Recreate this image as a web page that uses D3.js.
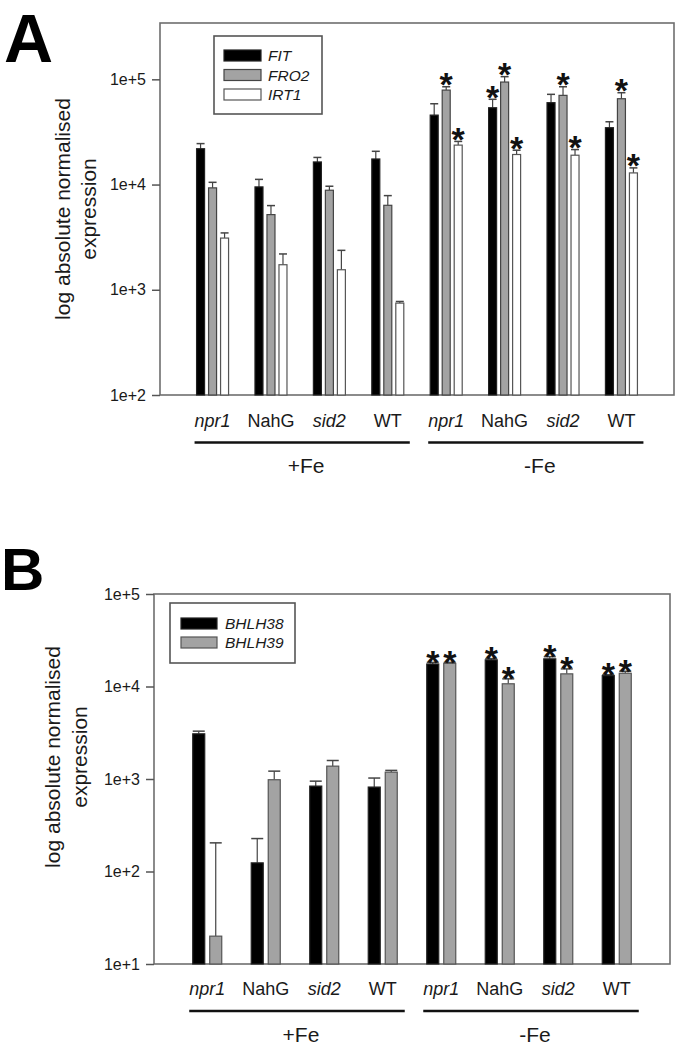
<!DOCTYPE html>
<html><head><meta charset="utf-8">
<script src="https://cdn.jsdelivr.net/npm/d3@7"></script>
<style>body{margin:0;background:#fff}svg{display:block}text{font-family:"Liberation Sans",Arial,sans-serif}</style>
</head><body>
<script>
// ---------- data ----------
const genotypes = ["npr1","NahG","sid2","WT","npr1","NahG","sid2","WT"];
const italicGenotype = [true,false,true,false,true,false,true,false];
const conditions = ["+Fe","-Fe"];
const tickLabelsA = ["1e+2","1e+3","1e+4","1e+5"];
const tickLabelsB = ["1e+1","1e+2","1e+3","1e+4","1e+5"];

// Panel A
const seriesA = ["FIT","FRO2","IRT1"];
const fitMean  = [21900, 9500, 16400, 17500, 45700, 53700, 60000, 34700];
const fitErr   = [2600, 1700, 1700, 3200, 12900, 10900, 12000, 4800];
const fro2Mean = [9300, 5180, 8830, 6350, 79000, 94200, 70400, 65400];
const fro2Err  = [1200, 1130, 810, 1500, 6000, 11800, 14600, 9200];
const irt1Mean = [3100, 1730, 1550, 747, 23700, 19300, 19000, 12900];
const irt1Err  = [370, 460, 820, 27, 2000, 1900, 2500, 1500];
const fitSig   = [0,0,0,0,0,1,0,0];
const fro2Sig  = [0,0,0,0,1,1,1,1];
const irt1Sig  = [0,0,0,0,1,1,1,1];

// Panel B
const seriesB = ["BHLH38","BHLH39"];
const bhlh38Mean = [3080, 124, 838, 818, 17500, 19400, 19900, 13100];
const bhlh38Err  = [210, 103, 110, 206, 700, 600, 1100, 300];
const bhlh39Mean = [20, 982, 1377, 1186, 17800, 10700, 13700, 13900];
const bhlh39Err  = [184, 234, 208, 53, 400, 1400, 1800, 700];
const bhlh38Sig  = [0,0,0,0,1,1,1,1];
const bhlh39Sig  = [0,0,0,0,1,1,1,1];

// ---------- drawing ----------
const W = 678, H = 1047;
const svg = d3.select("body").append("svg").attr("width", W).attr("height", H);

const fills = {FIT:"#000", FRO2:"#a3a3a3", IRT1:"#fff", BHLH38:"#000", BHLH39:"#a3a3a3"};
const strokes = {FIT:"#222", FRO2:"#444", IRT1:"#555", BHLH38:"#222", BHLH39:"#555"};

function panel(cfg) {
  const g = svg.append("g");
  const y = d3.scaleLog().domain(cfg.yDomain).range([cfg.bottom, cfg.top]);
  const x = d3.scaleBand().domain(d3.range(genotypes.length)).range([cfg.left, cfg.right])
              .paddingInner(0).paddingOuter(cfg.padOuter);
  const xs = d3.scaleBand().domain(cfg.series.map(s => s.name)).range(cfg.subRange)
              .paddingInner(cfg.subPad).paddingOuter(0);
  const cx = i => x(i) + x.bandwidth()/2;

  // frame
  g.append("rect").attr("x", cfg.left).attr("y", cfg.top)
    .attr("width", cfg.right - cfg.left).attr("height", cfg.bottom - cfg.top)
    .attr("fill", "none").attr("stroke", "#6e6e6e").attr("stroke-width", 1.6);

  // y axis
  const ax = g.append("g").attr("transform", `translate(${cfg.left},0)`)
    .call(d3.axisLeft(y).tickValues(cfg.ticks).tickSize(8).tickPadding(6)
      .tickFormat((d, i) => cfg.tickLabels[i]));
  ax.select(".domain").remove();
  ax.selectAll(".tick line").attr("stroke", "#555").attr("stroke-width", 1.5);
  ax.selectAll(".tick text").attr("font-size", 16).attr("fill", "#1a1a1a")
    .attr("font-family", '"Liberation Sans",Arial,sans-serif');

  // bars
  cfg.series.forEach(s => {
    const sg = g.append("g");
    const bw = xs.bandwidth();
    genotypes.forEach((gname, i) => {
      const bx = cx(i) + xs(s.name);
      const v = s.mean[i], top = y(v);
      const eTop = y(v + s.err[i]);
      const bc = bx + bw/2;
      // error bar (upper)
      sg.append("line").attr("x1", bc).attr("x2", bc).attr("y1", top).attr("y2", eTop)
        .attr("stroke", "#444").attr("stroke-width", 1.2);
      sg.append("line").attr("x1", bc - bw/2).attr("x2", bc + bw/2).attr("y1", eTop).attr("y2", eTop)
        .attr("stroke", "#444").attr("stroke-width", 1.5);
      sg.append("rect").attr("x", bx).attr("y", top).attr("width", bw)
        .attr("height", cfg.bottom - top)
        .attr("fill", fills[s.name]).attr("stroke", strokes[s.name]).attr("stroke-width", 1.2);
      if (s.sig[i]) {
        const fs = 34;
        sg.append("text").attr("x", bc).attr("y", eTop - cfg.starGap + 0.575*fs)
          .attr("text-anchor", "middle").attr("font-size", fs).attr("font-weight", "bold")
          .attr("fill", "#111").text("*");
      }
    });
  });

  // x labels
  genotypes.forEach((gname, i) => {
    g.append("text").attr("x", cx(i)).attr("y", cfg.labelY).attr("text-anchor", "middle")
      .attr("font-size", 18).attr("fill", "#1a1a1a")
      .attr("font-style", italicGenotype[i] ? "italic" : "normal").text(gname);
  });
  // group lines + condition labels
  conditions.forEach((c, k) => {
    const x1 = cx(k*4) - 18, x2 = cx(k*4 + 3) + 22;
    g.append("line").attr("x1", x1).attr("x2", x2).attr("y1", cfg.lineY).attr("y2", cfg.lineY)
      .attr("stroke", "#111").attr("stroke-width", 2.6);
    g.append("text").attr("x", (x1 + x2)/2 + 4).attr("y", cfg.condY).attr("text-anchor", "middle")
      .attr("font-size", 21).attr("fill", "#1a1a1a").text(c);
  });

  // y title
  const yt = g.append("g");
  yt.append("text").attr("transform", `translate(${cfg.yt1},${cfg.ytc}) rotate(-90)`)
    .attr("text-anchor", "middle").attr("font-size", 21).attr("fill", "#1a1a1a")
    .text("log absolute normalised");
  yt.append("text").attr("transform", `translate(${cfg.yt2},${cfg.ytc}) rotate(-90)`)
    .attr("text-anchor", "middle").attr("font-size", 21).attr("fill", "#1a1a1a")
    .text("expression");

  // panel letter
  g.append("text").attr("x", cfg.letterX).attr("y", cfg.letterY).attr("font-size", cfg.letterSize)
    .attr("font-weight", "bold").attr("fill", "#000").text(cfg.letter);

  // legend
  const L = cfg.legend;
  g.append("rect").attr("x", L.x).attr("y", L.y).attr("width", L.w).attr("height", L.h)
    .attr("fill", "#fff").attr("stroke", "#555").attr("stroke-width", 1.6);
  cfg.series.forEach((s, k) => {
    const sy = L.sy + k * L.step;
    g.append("rect").attr("x", L.sx).attr("y", sy).attr("width", L.sw).attr("height", 11)
      .attr("fill", fills[s.name]).attr("stroke", strokes[s.name]).attr("stroke-width", 1.2);
    g.append("text").attr("x", L.tx).attr("y", sy + 11).attr("font-size", 15.5)
      .attr("font-style", "italic").attr("fill", "#1a1a1a").text(s.name);
  });
}

panel({
  letter: "A", letterX: 4, letterY: 62, letterSize: 68,
  left: 160, right: 674, top: 23, bottom: 395,
  yDomain: [100, 343000], ticks: [1e2, 1e3, 1e4, 1e5], tickLabels: tickLabelsA,
  padOuter: 0.4, subRange: [-16, 16], subPad: 1/3, starGap: 10,
  series: [
    {name: seriesA[0], mean: fitMean, err: fitErr, sig: fitSig},
    {name: seriesA[1], mean: fro2Mean, err: fro2Err, sig: fro2Sig},
    {name: seriesA[2], mean: irt1Mean, err: irt1Err, sig: irt1Sig}
  ],
  labelY: 427, lineY: 442.5, condY: 473,
  yt1: 70, yt2: 96, ytc: 209,
  legend: {x: 214, y: 36, w: 108, h: 78, sx: 224, sy: 50, sw: 37, step: 19.5, tx: 268}
});

panel({
  letter: "B", letterX: 1, letterY: 590, letterSize: 60,
  left: 154, right: 670, top: 594, bottom: 964,
  yDomain: [10, 100000], ticks: [1e1, 1e2, 1e3, 1e4, 1e5], tickLabels: tickLabelsB,
  padOuter: 0.41, subRange: [-14.5, 14.5], subPad: 5/17, starGap: 8,
  series: [
    {name: seriesB[0], mean: bhlh38Mean, err: bhlh38Err, sig: bhlh38Sig},
    {name: seriesB[1], mean: bhlh39Mean, err: bhlh39Err, sig: bhlh39Sig}
  ],
  labelY: 995, lineY: 1011, condY: 1042,
  yt1: 60, yt2: 87, ytc: 757,
  legend: {x: 170, y: 603, w: 125, h: 60, sx: 181, sy: 618, sw: 36, step: 19, tx: 225}
});
</script>
</body></html>
